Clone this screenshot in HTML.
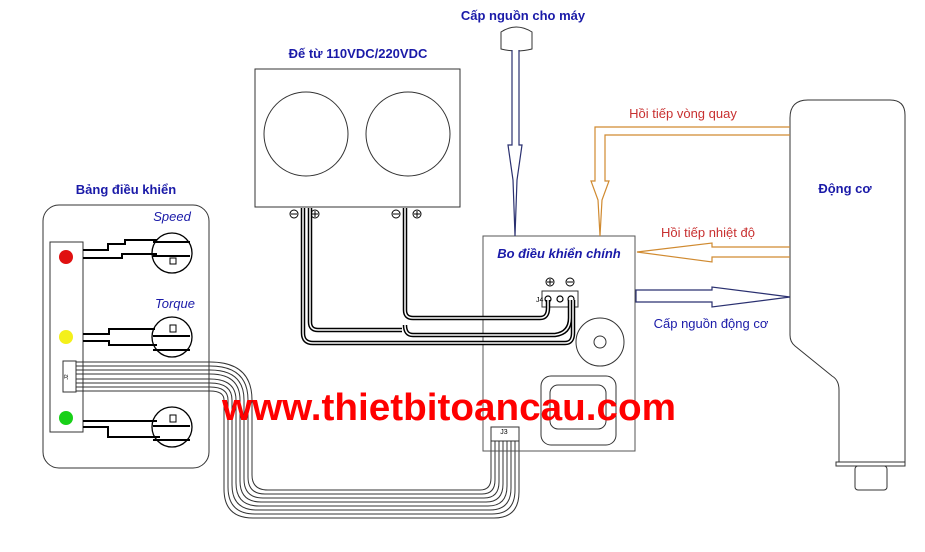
<!DOCTYPE html>
<html><head><meta charset="utf-8"><style>
html,body{margin:0;padding:0;background:#fff;}
svg{display:block;}
text{font-family:"Liberation Sans",sans-serif;}
</style></head><body>
<svg width="925" height="552" viewBox="0 0 925 552" xmlns="http://www.w3.org/2000/svg">
<rect width="925" height="552" fill="#fff"/>
<g fill="none" stroke="#333" stroke-width="1">
<rect x="43" y="205" width="166" height="263" rx="16"/>
<rect x="50" y="242" width="33" height="190"/>
<rect x="63" y="361" width="13" height="31" fill="#fff"/>
</g>
<circle cx="66" cy="257" r="7" fill="#e01010"/>
<circle cx="66" cy="337" r="7" fill="#f4f01a"/>
<circle cx="66" cy="418" r="7" fill="#18d018"/>
<text x="66" y="379" font-size="5" text-anchor="middle" transform="rotate(-90 66 377)">J2</text>
<g fill="none" stroke="#000" stroke-width="2">
<path d="M83 250 H108 V244 H125 V240 H157"/>
<path d="M83 258 H122 V254 H157"/>
<path d="M83 334 H109 V329 H155"/>
<path d="M83 341 H109 V345 H157"/>
<path d="M83 421 H157"/>
<path d="M83 427 H108 V437 H160"/>
</g>
<g fill="none" stroke="#000" stroke-width="1.3">
<circle cx="172" cy="253" r="20"/><circle cx="172" cy="337" r="20"/><circle cx="172" cy="427" r="20"/>
</g>
<g fill="none" stroke="#000" stroke-width="2">
<line x1="153" y1="242" x2="190" y2="242"/><line x1="153" y1="256" x2="190" y2="256"/>
<line x1="153" y1="336" x2="190" y2="336"/><line x1="153" y1="350" x2="190" y2="350"/>
<line x1="153" y1="426" x2="190" y2="426"/><line x1="153" y1="440" x2="190" y2="440"/>
</g>
<g fill="#fff" stroke="#000" stroke-width="1">
<rect x="170" y="258" width="6" height="6"/><rect x="170" y="325" width="6" height="7"/><rect x="170" y="415" width="6" height="7"/>
</g>
<text x="172" y="221" font-size="13" font-style="italic" fill="#1a1aa8" text-anchor="middle">Speed</text>
<text x="175" y="308" font-size="13" font-style="italic" fill="#1a1aa8" text-anchor="middle">Torque</text>
<text x="126" y="194" font-size="13" font-weight="bold" fill="#1a1aa8" text-anchor="middle">Bảng điều khiển</text>
<g fill="none" stroke="#333" stroke-width="1">
<path d="M76 362 H210 Q252 362 252 400 V475 Q252 490 268 490 H480 Q491 490 491 478 V441"/>
<path d="M76 366 H210 Q248 366 248 400 V477 Q248 494 265 494 H482 Q495 494 495 480 V441"/>
<path d="M76 370 H210 Q244 370 244 400 V479 Q244 498 263 498 H484 Q499 498 499 482 V441"/>
<path d="M76 374 H210 Q240 374 240 400 V481 Q240 502 261 502 H486 Q503 502 503 484 V441"/>
<path d="M76 379 H210 Q236 379 236 400 V483 Q236 506 259 506 H488 Q507 506 507 486 V441"/>
<path d="M76 383 H210 Q232 383 232 400 V485 Q232 510 257 510 H490 Q511 510 511 488 V441"/>
<path d="M76 387 H210 Q228 387 228 400 V487 Q228 514 255 514 H492 Q515 514 515 490 V441"/>
<path d="M76 391 H210 Q224 391 224 400 V489 Q224 518 253 518 H494 Q519 518 519 492 V441"/>
<rect x="255" y="69" width="205" height="138"/>
<circle cx="306" cy="134" r="42"/><circle cx="408" cy="134" r="42"/>
<rect x="483" y="236" width="152" height="215" stroke="#555"/>
<rect x="542" y="291" width="36" height="16"/>
<circle cx="600" cy="342" r="24"/><circle cx="600" cy="342" r="6"/>
<rect x="541" y="376" width="75" height="69" rx="10"/>
<rect x="550" y="385" width="56" height="44" rx="8"/>
<rect x="491" y="427" width="28" height="14" fill="#fff"/>
<path d="M790 118 Q790 100 808 100 H890 Q905 100 905 115 V462 H839 V390 Q839 380 832 376 L795 346 Q790 342 790 335 Z"/>
<rect x="836" y="462" width="69" height="4"/>
<rect x="855" y="466" width="32" height="24" rx="3"/>
<path d="M501 49 V32 Q516 22 532 32 V49 Q516 53 501 49 Z"/>
</g>
<text x="504" y="434" font-size="7" text-anchor="middle">J3</text>
<text x="536" y="302" font-size="7">J4</text>
<g font-size="10" text-anchor="middle" fill="#000">
<circle cx="294" cy="214" r="4" fill="none" stroke="#000"/><circle cx="315" cy="214" r="4" fill="none" stroke="#000"/>
<circle cx="396" cy="214" r="4" fill="none" stroke="#000"/><circle cx="417" cy="214" r="4" fill="none" stroke="#000"/>
<circle cx="550" cy="282" r="4" fill="none" stroke="#000"/><circle cx="570" cy="282" r="4" fill="none" stroke="#000"/>
<path d="M291 214h6M312 214h6M315 211v6M393 214h6M414 214h6M417 211v6M547 282h6M550 279v6M567 282h6" stroke="#000"/>
</g>
<g fill="none" stroke="#000" stroke-width="1.2">
<circle cx="548" cy="299" r="3"/><circle cx="560" cy="299" r="3"/><circle cx="571" cy="299" r="3"/>
</g>
<g fill="none" stroke="#000" stroke-width="4.5">
<path d="M303 208 V333 Q303 343 313 343 H565 Q573 343 573 333 V300"/>
<path d="M310 208 V322 Q310 330 318 330 H402"/>
<path d="M405 208 V310 Q405 318 413 318 H540 Q548 318 548 308 V300"/>
<path d="M405 325 Q405 335 413 335 H555 Q570 333 570 318 V300"/>
</g>
<g fill="none" stroke="#fff" stroke-width="1.5">
<path d="M303 208 V333 Q303 343 313 343 H565 Q573 343 573 333 V300"/>
<path d="M310 208 V322 Q310 330 318 330 H402"/>
<path d="M405 208 V310 Q405 318 413 318 H540 Q548 318 548 308 V300"/>
<path d="M405 325 Q405 335 413 335 H555 Q570 333 570 318 V300"/>
</g>
<path d="M512 50 V145 H508 L513 180 L515 236 L517 180 L522 145 H519 V50" fill="#fff" stroke="#2a3070" stroke-width="1.2"/>
<path d="M790 127 H595 V181 H591 L598 200 L600 236 L602 200 L609 181 H605 V135 H790" fill="none" stroke="#d08a30" stroke-width="1.2"/>
<path d="M790 247 H712 V243 L637 252 L712 262 V257 H790" fill="none" stroke="#d08a30" stroke-width="1.2"/>
<path d="M636 290 H712 V287 L790 297 L712 307 V302 H636 Z" fill="#fff" stroke="#2a3070" stroke-width="1.2"/>
<text x="523" y="20" font-size="13" font-weight="bold" fill="#1a1aa8" text-anchor="middle">Cấp nguồn cho máy</text>
<text x="358" y="58" font-size="13" font-weight="bold" fill="#1a1aa8" text-anchor="middle">Đế từ 110VDC/220VDC</text>
<text x="559" y="258" font-size="13" font-weight="bold" font-style="italic" fill="#1a1aa8" text-anchor="middle">Bo điều khiển chính</text>
<text x="683" y="118" font-size="13" fill="#c83030" text-anchor="middle">Hồi tiếp vòng quay</text>
<text x="708" y="237" font-size="13" fill="#c83030" text-anchor="middle">Hồi tiếp nhiệt độ</text>
<text x="711" y="328" font-size="13" fill="#1a1aa8" text-anchor="middle">Cấp nguồn động cơ</text>
<text x="845" y="193" font-size="13" font-weight="bold" fill="#1a1aa8" text-anchor="middle">Động cơ</text>
<text x="449" y="420" font-size="38" font-weight="bold" fill="#ff0000" text-anchor="middle" textLength="454" lengthAdjust="spacingAndGlyphs">www.thietbitoancau.com</text>
</svg>
</body></html>
